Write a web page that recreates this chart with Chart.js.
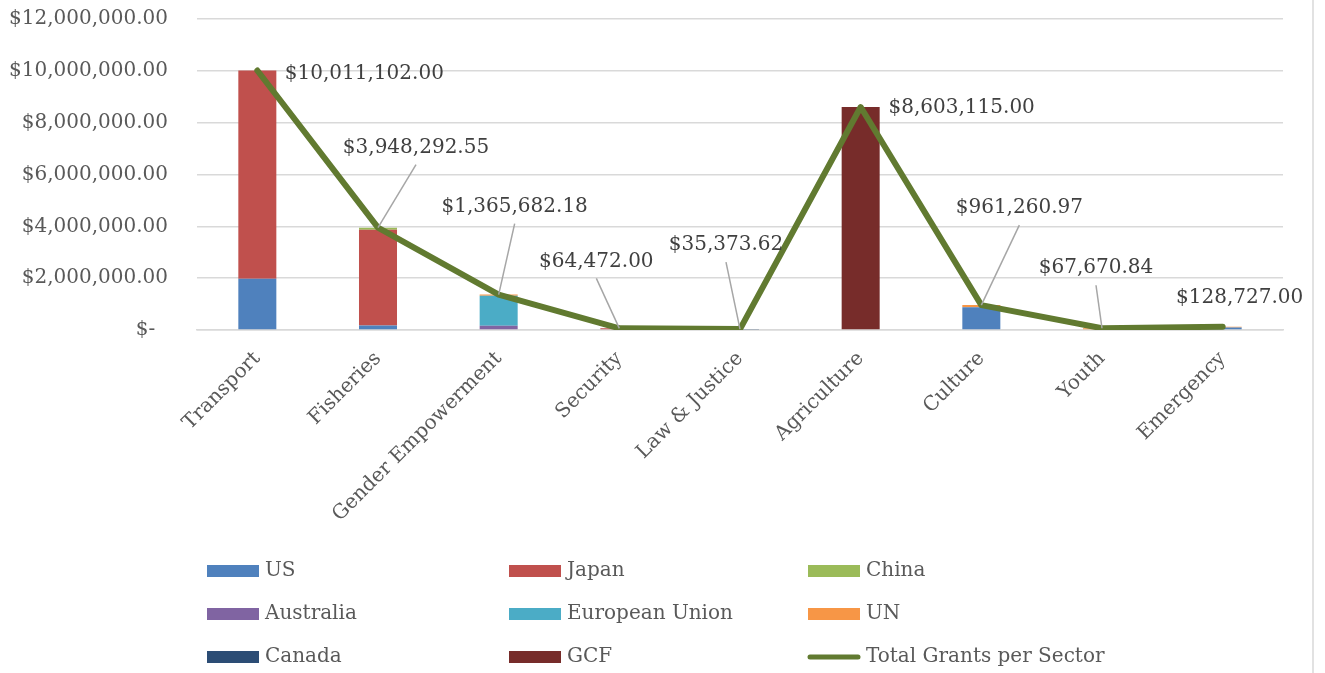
<!DOCTYPE html>
<html>
<head>
<meta charset="utf-8">
<title>Grants per Sector</title>
<script src="https://cdn.jsdelivr.net/npm/chart.js@4.4.1/dist/chart.umd.min.js"></script>
<style>
  html, body { margin: 0; padding: 0; background: #fff; }
  #wrap { position: relative; width: 1325px; height: 673px; }
</style>
</head>
<body>
<div id="wrap"><canvas id="grantsChart"></canvas></div>
<script>
// Sectores y aportes por donante (USD)
const sectors = ['Transport', 'Fisheries', 'Gender Empowerment', 'Security', 'Law & Justice',
                 'Agriculture', 'Culture', 'Youth', 'Emergency'];
const usGrants        = [1980000, 170000, 0, 0, 0, 0, 880000, 0, 100000];
const japanGrants     = [8031102, 3700000, 0, 64472, 0, 0, 0, 0, 0];
const chinaGrants     = [0, 78292.55, 0, 0, 0, 0, 0, 0, 0];
const australiaGrants = [0, 0, 160000, 0, 0, 0, 0, 0, 0];
const euGrants        = [0, 0, 1165682.18, 0, 0, 0, 0, 0, 0];
const unGrants        = [0, 0, 40000, 0, 0, 0, 81260.97, 67670.84, 28727];
const canadaGrants    = [0, 0, 0, 0, 35373.62, 0, 0, 0, 0];
const gcfGrants       = [0, 0, 0, 0, 0, 8603115, 0, 0, 0];
const totalGrants     = [10011102.00, 3948292.55, 1365682.18, 64472.00, 35373.62,
                         8603115.00, 961260.97, 67670.84, 128727.00];
const yTicks = [0, 2000000, 4000000, 6000000, 8000000, 10000000, 12000000];

const FONT = 'DejaVu Serif';
const FONT_SIZE = 20;
const TEXT = '#595959';
const GRID = '#d9d9d9';

function money(v) {
    if (v === 0) return '$-  ';
    return '$' + v.toLocaleString('en-US', { minimumFractionDigits: 2, maximumFractionDigits: 2 });
}

// posición de cada etiqueta respecto a su punto: [dx, dy, guía]
const labelOffsets = [
    [107, 3, false], [38, -80, true], [16, -88, true], [-23, -67, true], [-14, -84, true],
    [101, 1, false], [38, -97, true], [-6, -60, true], [17, -29, false]
];

const bar = (label, data, color) => ({
    type: 'bar', label, data, backgroundColor: color, stack: 'donors', order: 1,
    barPercentage: 0.315, categoryPercentage: 1
});

// Etiquetas de totales, borde derecho y leyenda en tres columnas
const extras = {
    id: 'extras',
    afterDatasetsDraw(chart) {
        const ctx = chart.ctx;
        const idx = chart.data.datasets.length - 1;
        const meta = chart.getDatasetMeta(idx);
        ctx.save();
        ctx.font = FONT_SIZE + 'px "' + FONT + '"';
        ctx.textAlign = 'center';
        ctx.textBaseline = 'middle';
        meta.data.forEach((pt, i) => {
            const [dx, dy, guide] = labelOffsets[i];
            const tx = pt.x + dx, ty = pt.y + dy;
            if (guide) {
                ctx.strokeStyle = '#a6a6a6';
                ctx.lineWidth = 1.5;
                ctx.beginPath();
                ctx.moveTo(tx, ty + 17);
                ctx.lineTo(pt.x, pt.y);
                ctx.stroke();
            }
            ctx.fillStyle = '#404040';
            ctx.fillText(money(chart.data.datasets[idx].data[i]), tx, ty);
        });
        ctx.restore();
    },
    afterDraw(chart) {
        const ctx = chart.ctx;
        ctx.save();
        ctx.strokeStyle = GRID;
        ctx.lineWidth = 1.5;
        ctx.beginPath();
        ctx.moveTo(1313, 0);
        ctx.lineTo(1313, chart.height);
        ctx.stroke();

        const colX = [207, 509, 808];
        const rowY = [571, 614, 657];
        ctx.font = FONT_SIZE + 'px "' + FONT + '"';
        ctx.textBaseline = 'middle';
        ctx.textAlign = 'left';
        chart.data.datasets.forEach((ds, i) => {
            const x = colX[i % 3], y = rowY[Math.floor(i / 3)];
            if (ds.type === 'line') {
                ctx.strokeStyle = ds.borderColor;
                ctx.lineWidth = 5;
                ctx.lineCap = 'round';
                ctx.beginPath();
                ctx.moveTo(x + 2, y);
                ctx.lineTo(x + 50, y);
                ctx.stroke();
            } else {
                ctx.fillStyle = ds.backgroundColor;
                ctx.fillRect(x, y - 6, 52, 12);
            }
            ctx.fillStyle = TEXT;
            ctx.fillText(ds.label, x + 58, y);
        });
        ctx.restore();
    }
};

const ctx = document.getElementById('grantsChart').getContext('2d');
new Chart(ctx, {
    data: {
        labels: sectors,
        datasets: [
            bar('US', usGrants, '#4f81bd'),
            bar('Japan', japanGrants, '#c0504d'),
            bar('China', chinaGrants, '#9bbb59'),
            bar('Australia', australiaGrants, '#8064a2'),
            bar('European Union', euGrants, '#4bacc6'),
            bar('UN', unGrants, '#f79646'),
            bar('Canada', canadaGrants, '#2c4d75'),
            bar('GCF', gcfGrants, '#772c2a'),
            {
                type: 'line', label: 'Total Grants per Sector', data: totalGrants,
                borderColor: '#617a30', backgroundColor: '#617a30', borderWidth: 6,
                pointRadius: 0, tension: 0, stack: 'total', order: 0,
                borderJoinStyle: 'round', borderCapStyle: 'round'
            }
        ]
    },
    plugins: [extras],
    options: {
        responsive: true,
        maintainAspectRatio: false,
        animation: false,
        layout: { padding: { top: 19, right: 42, bottom: 150, left: 0 } },
        plugins: {
            legend: { display: false },
            tooltip: { enabled: false }
        },
        scales: {
            x: {
                stacked: true,
                grid: { display: false },
                border: { color: GRID, width: 1.5 },
                ticks: {
                    color: TEXT, maxRotation: 45, minRotation: 45, padding: 9,
                    font: { family: FONT, size: FONT_SIZE }
                },
                afterFit: (scale) => { scale.height = 193; }
            },
            y: {
                stacked: true,
                min: 0,
                max: 12000000,
                afterBuildTicks: (scale) => { scale.ticks = yTicks.map(v => ({ value: v })); },
                grid: { color: GRID, lineWidth: 1.5, drawTicks: false },
                border: { display: false },
                ticks: {
                    color: TEXT, padding: 29,
                    font: { family: FONT, size: FONT_SIZE },
                    callback: (v) => money(v)
                },
                afterFit: (scale) => {
                    scale.width = 197;
                    scale.paddingTop = 0;
                    scale.paddingBottom = 0;
                }
            }
        }
    }
});
</script>
</body>
</html>
